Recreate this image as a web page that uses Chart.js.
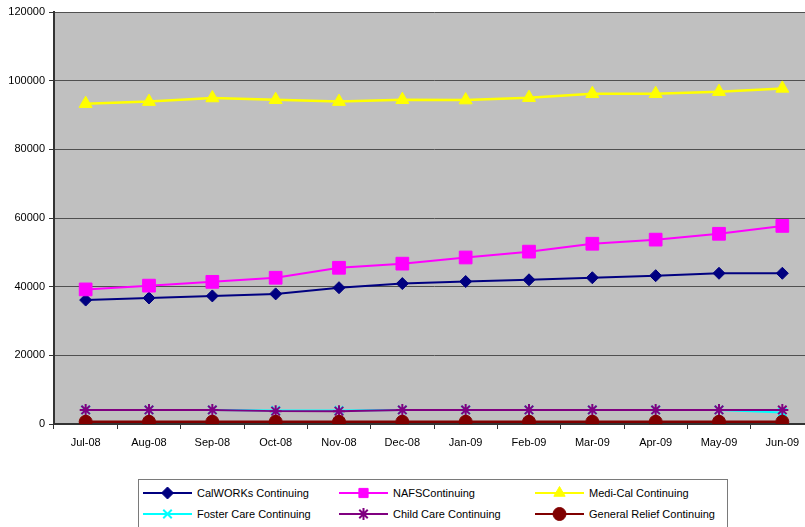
<!DOCTYPE html>
<html>
<head>
<meta charset="utf-8">
<script src="https://cdn.jsdelivr.net/npm/chart.js@4/dist/chart.umd.min.js"></script>
<style>
  html, body { margin: 0; padding: 0; background: #fff; overflow: hidden; }
  #wrap { position: relative; width: 805px; height: 527px; overflow: hidden; }
  #chart { position: absolute; left: 0; top: 0; }
  #legend {
    position: absolute; left: 138px; top: 479px; width: 590px; height: 60px;
    border: 1px solid #7a7a7a; background: #fff; box-sizing: border-box;
    font-family: "Liberation Sans", Arial, sans-serif; font-size: 11px; color: #000;
  }
  .item { position: absolute; height: 14px; line-height: 14px; white-space: nowrap; }
  .item canvas { position: absolute; left: 0; top: 0; }
  .item span { position: absolute; top: 0; }
</style>
</head>
<body>
<div id="wrap">
  <canvas id="chart" width="824" height="462"></canvas>
  <div id="legend"></div>
</div>
<script>
// Monthly continuing caseloads, July 2008 – June 2009
const months = ['Jul-08','Aug-08','Sep-08','Oct-08','Nov-08','Dec-08','Jan-09','Feb-09','Mar-09','Apr-09','May-09','Jun-09'];

const calworks    = [36100, 36700, 37300, 37900, 39700, 40900, 41500, 42000, 42600, 43200, 43900, 43900];
const nafs        = [39200, 40300, 41400, 42600, 45500, 46700, 48500, 50200, 52500, 53700, 55400, 57700];
const medical     = [93300, 93900, 94950, 94450, 93900, 94450, 94350, 95050, 96200, 96200, 96800, 97750];
const fosterCare  = [4100, 4100, 4100, 3950, 3950, 4100, 4100, 4100, 4100, 4100, 4100, 3350];
const childCare   = [4100, 4100, 4100, 3750, 3750, 4100, 4100, 4100, 4100, 4100, 4100, 4100];
const genRelief   = [650, 650, 650, 650, 650, 650, 650, 650, 650, 650, 650, 650];

const yTicks = [0, 20000, 40000, 60000, 80000, 100000, 120000];

const series = [
  { label: 'CalWORKs Continuing',       data: calworks,   color: '#000080', style: 'rectRot',  radius: 6,   width: 2,   pbw: 1 },
  { label: 'NAFSContinuing',            data: nafs,       color: '#FF00FF', style: 'rect',     radius: 9,   width: 2,   pbw: 1 },
  { label: 'Medi-Cal Continuing',       data: medical,    color: '#FFFF00', style: 'triangle', radius: 7.5, width: 2.5, pbw: 1 },
  { label: 'Foster Care Continuing',    data: fosterCare, color: '#00FFFF', style: 'crossRot', radius: 6,   width: 2,   pbw: 2 },
  { label: 'Child Care Continuing',     data: childCare,  color: '#800080', style: 'star',     radius: 6,   width: 2,   pbw: 2 },
  { label: 'General Relief Continuing', data: genRelief,  color: '#800000', style: 'circle',   radius: 6.5, width: 2.5, pbw: 1 }
];

const FONT = { family: '"Liberation Sans", Arial, sans-serif', size: 11 };

// Grey plot area behind gridlines and lines
const plotBackground = {
  id: 'plotBackground',
  beforeDraw(chart) {
    const { ctx, chartArea: a } = chart;
    ctx.save();
    ctx.fillStyle = '#C0C0C0';
    ctx.fillRect(a.left, a.top, a.right - a.left, a.bottom - a.top);
    ctx.restore();
  }
};

const datasets = series.map((s, i) => ({
  label: s.label,
  data: s.data,
  borderColor: s.color,
  backgroundColor: s.color,
  borderWidth: s.width,
  pointStyle: s.style,
  pointRadius: s.radius,
  pointBorderWidth: s.pbw,
  pointBorderColor: s.color,
  pointBackgroundColor: s.color,
  tension: 0,
  fill: false,
  order: series.length - i   // later series paint over earlier ones
}));

new Chart(document.getElementById('chart'), {
  type: 'line',
  data: { labels: months, datasets },
  options: {
    responsive: false,
    animation: false,
    layout: { padding: { top: 12, left: 0, right: 0, bottom: 0 } },
    plugins: { legend: { display: false }, tooltip: { enabled: false } },
    scales: {
      x: {
        offset: true,
        grid: { offset: true, drawOnChartArea: false, drawTicks: true, tickLength: 5, color: '#333', lineWidth: 1 },
        border: { color: '#333', width: 2 },
        ticks: { font: FONT, color: '#000', maxRotation: 0, autoSkip: false, padding: 7 },
        afterFit(scale) { scale.height = 38; }
      },
      y: {
        min: 0, max: 120000,
        afterBuildTicks(scale) { scale.ticks = yTicks.map(v => ({ value: v })); },
        grid: { color: '#505050', lineWidth: 1, drawTicks: true, tickLength: 5, tickColor: '#333' },
        border: { color: '#333', width: 2 },
        ticks: { font: FONT, color: '#000', padding: 4, callback: v => String(v) },
        afterFit(scale) { scale.width = 54; }
      }
    }
  },
  plugins: [plotBackground]
});

// Legend: line-with-marker samples and labels in a 3 x 2 grid
const legend = document.getElementById('legend');
const cols = [4, 200, 396];     // sample left edges inside the box
const rows = [6, 27];
series.forEach((s, i) => {
  const item = document.createElement('div');
  item.className = 'item';
  item.style.left = cols[i % 3] + 'px';
  item.style.top = rows[Math.floor(i / 3)] + 'px';
  const c = document.createElement('canvas');
  c.width = 50; c.height = 14;
  const ctx = c.getContext('2d');
  ctx.strokeStyle = s.color;
  ctx.fillStyle = s.color;
  ctx.lineWidth = 2;
  ctx.beginPath(); ctx.moveTo(0, 7); ctx.lineTo(49, 7); ctx.stroke();
  ctx.lineWidth = s.pbw;
  Chart.helpers.drawPoint(ctx, { pointStyle: s.style, radius: Math.min(s.radius, 6.5), borderWidth: s.pbw, rotation: 0 }, 24.5, 7);
  const t = document.createElement('span');
  t.style.left = '54px';
  t.textContent = s.label;
  item.appendChild(c);
  item.appendChild(t);
  legend.appendChild(item);
});
</script>
</body>
</html>
